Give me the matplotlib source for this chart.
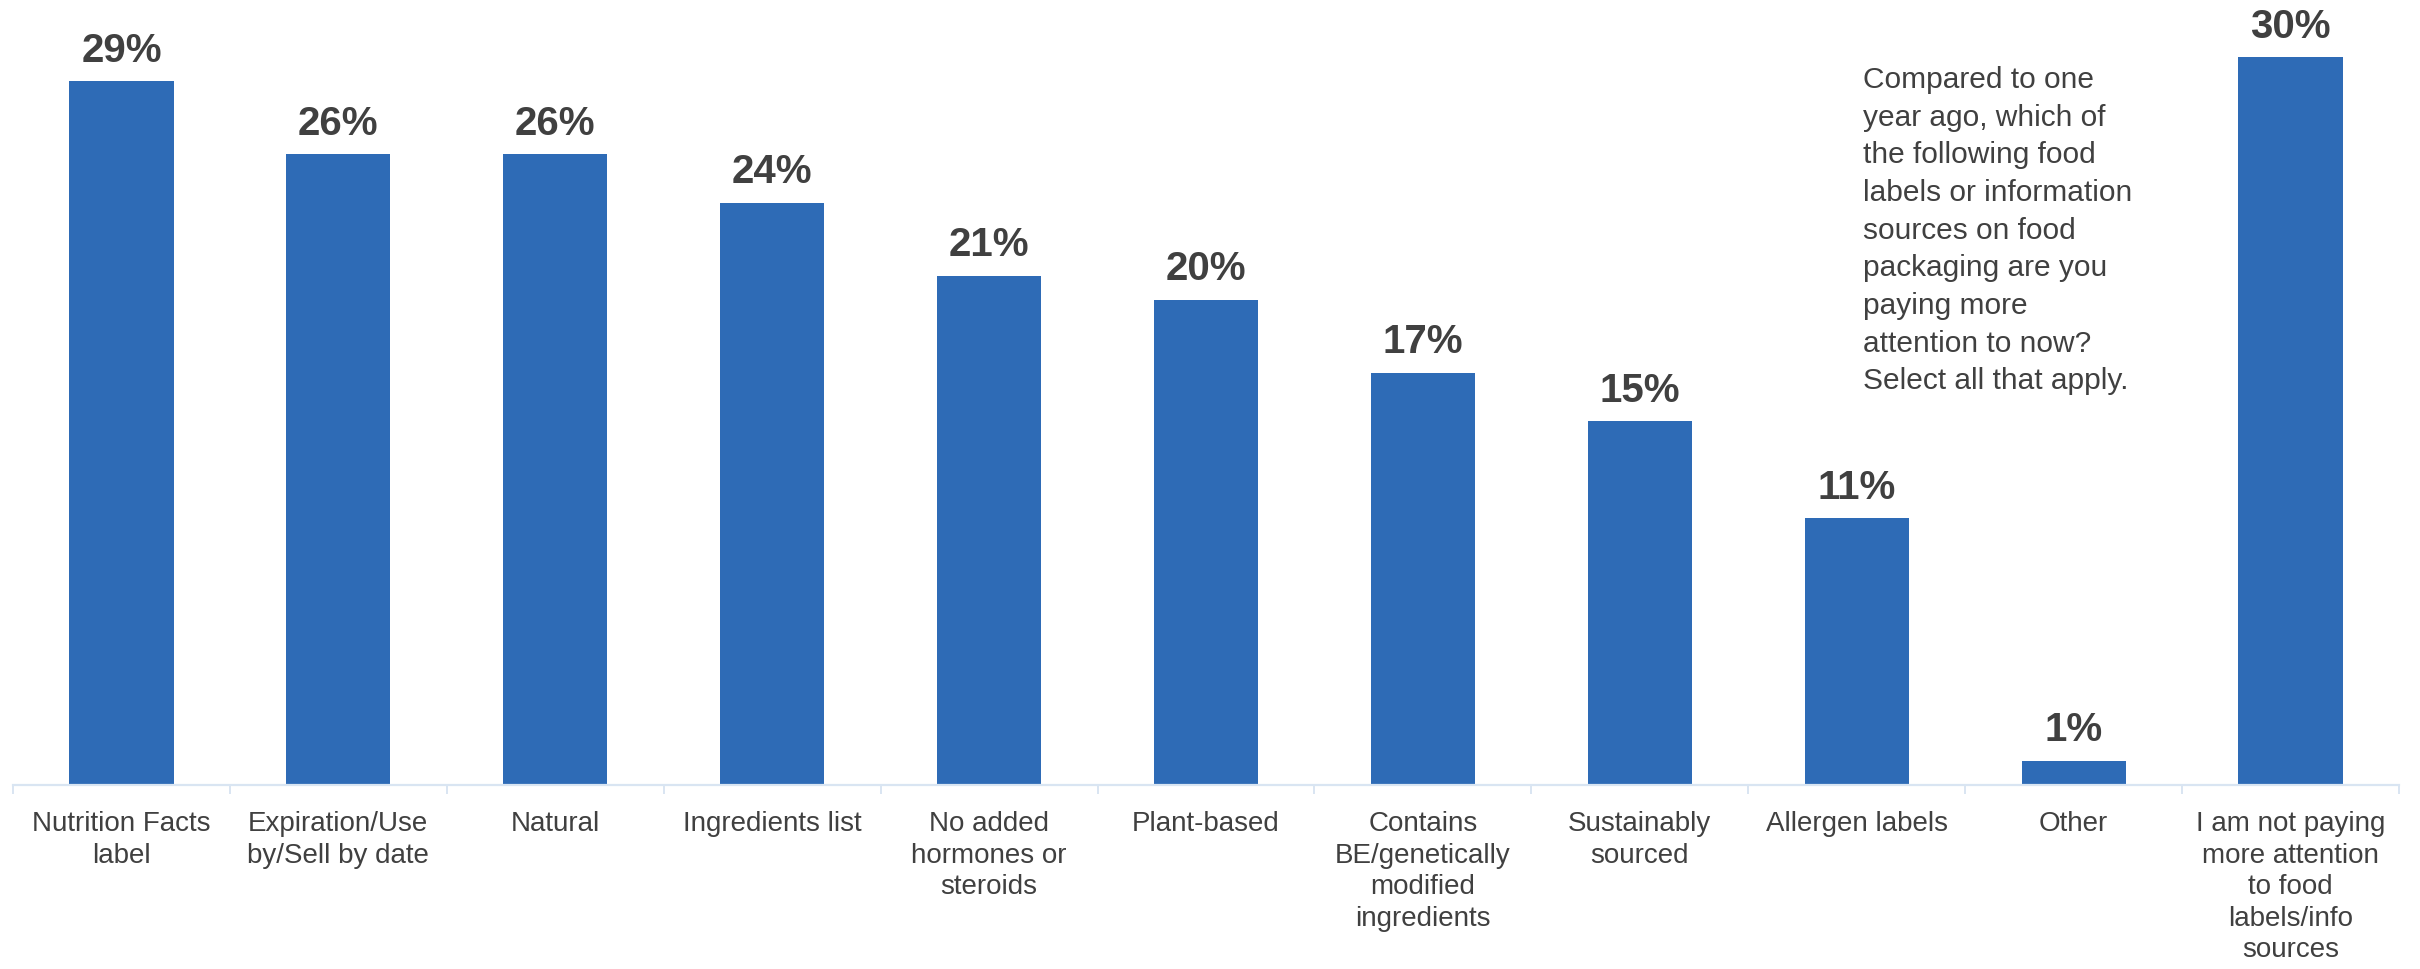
import matplotlib.pyplot as plt
from matplotlib.ticker import FixedLocator

# Data
categories = [
    "Nutrition Facts\nlabel",
    "Expiration/Use\nby/Sell by date",
    "Natural",
    "Ingredients list",
    "No added\nhormones or\nsteroids",
    "Plant-based",
    "Contains\nBE/genetically\nmodified\ningredients",
    "Sustainably\nsourced",
    "Allergen labels",
    "Other",
    "I am not paying\nmore attention\nto food\nlabels/info\nsources",
]
values = [29, 26, 26, 24, 21, 20, 17, 15, 11, 1, 30]
value_labels = [f"{v}%" for v in values]

question = ("Compared to one\nyear ago, which of\nthe following food\nlabels or information\n"
            "sources on food\npackaging are you\npaying more\nattention to now?\nSelect all that apply.")

bar_color = '#2E6BB6'
text_color = '#404040'
axis_color = '#D9E5F2'

plt.rcParams['font.family'] = ['Liberation Sans', 'DejaVu Sans']

fig = plt.figure(figsize=(24.2, 9.7), dpi=100)
ax = fig.add_axes([13 / 2420, (970 - 786) / 970, 2386 / 2420, 786 / 970])

x = list(range(len(categories)))
bars = ax.bar(x, values, width=0.48, color=bar_color, zorder=2)

# value labels above bars
ax.bar_label(bars, labels=value_labels, padding=9, fontsize=29, fontweight='bold',
             color=text_color)

ax.set_xlim(-0.5, len(categories) - 0.5)
ax.set_ylim(0, 32.4)

# category labels, separators between categories
ax.set_xticks(x)
ax.set_xticklabels(categories, fontsize=20, color=text_color, linespacing=1.28)
ax.tick_params(axis='x', which='major', length=0, pad=18)
ax.xaxis.set_minor_locator(FixedLocator([i - 0.5 for i in range(len(categories) + 1)]))
ax.tick_params(axis='x', which='minor', length=6.5, width=1.4, color=axis_color, direction='out')

ax.set_yticks([])
for side in ['top', 'right', 'left']:
    ax.spines[side].set_visible(False)
ax.spines['bottom'].set_color(axis_color)
ax.spines['bottom'].set_linewidth(1.6)

# question text in the top right
fig.text(1863 / 2420, 1 - 66 / 970, question, fontsize=21.5, color=text_color,
         ha='left', va='top', linespacing=1.44)

plt.savefig('out.png', dpi=100)
